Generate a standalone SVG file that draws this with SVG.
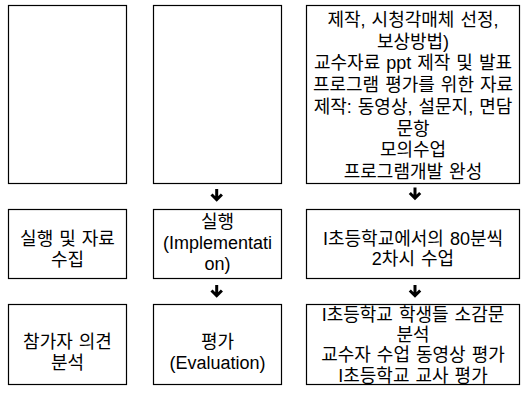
<svg xmlns="http://www.w3.org/2000/svg" width="521" height="395" viewBox="0 0 521 395">
<style>
.box{fill:#fff;stroke:#000;stroke-width:1.2}
text{font-family:"Liberation Sans","Noto Sans CJK KR",sans-serif;font-size:18px;fill:#000;text-anchor:middle;word-spacing:1px}
.arr{fill:none;stroke:#000;stroke-width:3;stroke-linejoin:miter;stroke-linecap:butt}
</style>
<rect width="521" height="395" fill="#fff"/>
<g id="n1"><rect class="box" x="8.5" y="5.5" width="118" height="178"/></g>
<g id="n2"><rect class="box" x="153.5" y="5.5" width="128" height="178"/></g>
<g id="n3"><rect class="box" x="306.5" y="5.5" width="213" height="178"/>
<text x="413" y="26">제작, 시청각매체 선정,</text>
<text x="413" y="47.7">보상방법)</text>
<text x="413" y="69.4">교수자료 ppt 제작 및 발표</text>
<text x="413" y="91.1">프로그램 평가를 위한 자료</text>
<text x="413" y="112.8">제작: 동영상, 설문지, 면담</text>
<text x="413" y="134.5">문항</text>
<text x="413" y="156.2">모의수업</text>
<text x="413" y="177.9">프로그램개발 완성</text>
</g>
<g id="n4"><rect class="box" x="8.5" y="209.5" width="118" height="69"/>
<text x="67.5" y="244.5">실행 및 자료</text>
<text x="67.5" y="265.5">수집</text>
</g>
<g id="n5"><rect class="box" x="153.5" y="209.5" width="128" height="69"/>
<text x="217.5" y="227.5">실행</text>
<text x="217.5" y="248.5">(Implementati</text>
<text x="217.5" y="269.5">on)</text>
</g>
<g id="n6"><rect class="box" x="306.5" y="209.5" width="213" height="69"/>
<text x="413" y="244.5">I초등학교에서의 80분씩</text>
<text x="413" y="265">2차시 수업</text>
</g>
<g id="n7"><rect class="box" x="8.5" y="304.5" width="118" height="80"/>
<text x="67.5" y="347.5">참가자 의견</text>
<text x="67.5" y="368.5">분석</text>
</g>
<g id="n8"><rect class="box" x="153.5" y="304.5" width="128" height="80"/>
<text x="217.5" y="347.5">평가</text>
<text x="217.5" y="368.5">(Evaluation)</text>
</g>
<g id="n9"><rect class="box" x="306.5" y="304.5" width="213" height="80"/>
<text x="413" y="321">I초등학교 학생들 소감문</text>
<text x="413" y="341.2">분석</text>
<text x="413" y="361.4">교수자 수업 동영상 평가</text>
<text x="413" y="381.5">I초등학교 교사 평가</text>
</g>
<g id="connectors">
<path class="arr" d="M216.7,189 V200 M211.5,194.5 L216.7,199.7 L221.9,194.5"/>
<path class="arr" d="M216.7,285 V296 M211.5,290.5 L216.7,295.7 L221.9,290.5"/>
<path class="arr" d="M415,187.5 V198.5 M409.8,193 L415,198.2 L420.2,193"/>
<path class="arr" d="M415,285 V296 M409.8,290.5 L415,295.7 L420.2,290.5"/>
</g>
</svg>
